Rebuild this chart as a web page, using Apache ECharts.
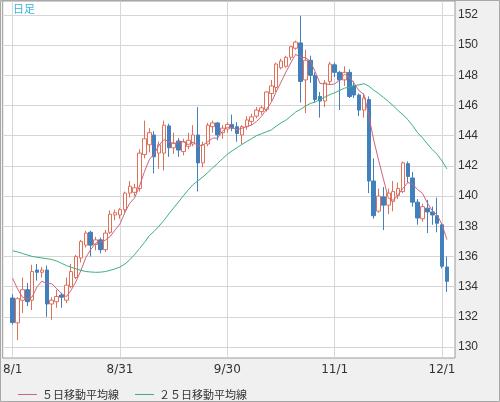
<!DOCTYPE html>
<html><head><meta charset="utf-8">
<script src="https://cdn.jsdelivr.net/npm/echarts@6/dist/echarts.min.js"></script>
<style>html,body{margin:0;padding:0;background:#f0f0f0}#c{width:500px;height:402px}</style>
</head><body><div id="c"></div>
<script>
const dates = ['8/1','8/2','8/3','8/4','8/5','8/8','8/9','8/10','8/11','8/12','8/15','8/16','8/17','8/18','8/19','8/22','8/23','8/24','8/25','8/26','8/29','8/30','8/31',
'9/1','9/2','9/5','9/6','9/7','9/8','9/9','9/12','9/13','9/14','9/15','9/16','9/19','9/20','9/21','9/22','9/23','9/26','9/27','9/28','9/29','9/30',
'10/3','10/4','10/5','10/6','10/7','10/10','10/11','10/12','10/13','10/14','10/17','10/18','10/19','10/20','10/21','10/24','10/25','10/26','10/27','10/28','10/31',
'11/1','11/2','11/3','11/4','11/7','11/8','11/9','11/10','11/11','11/14','11/15','11/16','11/17','11/18','11/21','11/22','11/23','11/24','11/25','11/28','11/29','11/30',
'12/1','12/2'];
const tickDates = ['8/1','8/31','9/30','11/1','12/1'];
const yTicks = [130,132,134,136,138,140,142,144,146,148,150,152];
const opens = [133.25,131.6,133.1,133.8,133.1,135.1,134.95,135.1,132.85,133.0,133.45,133.1,134.0,134.6,135.9,136.75,137.6,136.8,137.1,136.45,137.6,138.75,138.75,
139.1,140.2,140.25,140.5,142.75,143.4,144.05,142.85,142.85,144.65,143.2,143.65,142.95,143.3,143.45,144.05,142.2,143.45,144.6,144.85,144.2,144.45,
144.75,144.6,144.05,144.6,144.95,145.3,145.6,145.75,146.8,147.2,148.5,148.6,149.2,149.8,150.15,147.7,149.0,148.0,146.6,146.3,147.6,
148.7,148.2,147.7,148.2,147.3,146.7,145.7,146.4,141.0,139.0,139.95,139.4,139.65,140.05,140.3,142.15,141.2,139.6,138.5,139.2,138.95,138.7,
138.1,135.3];
const closes = [131.62,133.2,133.8,133.0,135.0,134.95,135.1,132.85,133.1,133.35,133.3,134.1,135.0,136.0,137.0,137.55,136.75,137.1,136.45,137.55,138.8,138.9,139.1,
140.2,140.65,140.55,142.85,143.8,144.2,142.6,143.4,144.7,143.2,143.5,143.05,143.6,143.7,144.05,142.2,143.4,144.7,144.85,144.05,144.5,144.75,
144.5,144.15,144.6,145.05,145.25,145.7,145.85,146.9,147.3,148.75,148.95,149.2,149.9,150.2,147.6,149.0,148.0,146.4,146.3,147.5,148.75,
148.2,147.7,148.2,146.6,146.7,145.7,146.5,141.0,138.7,140.0,139.4,140.2,140.3,140.5,142.2,141.3,139.6,138.55,139.3,138.95,138.75,138.2,
135.35,134.35];
const lows = [131.5,130.45,132.25,132.7,132.45,134.4,134.6,132.0,131.8,132.6,132.6,132.9,133.9,134.5,135.6,136.6,136.0,136.4,136.2,136.3,137.5,138.4,138.5,
138.9,139.9,140.0,140.3,142.5,142.9,141.5,141.8,141.7,142.6,142.8,142.6,142.7,143.1,143.3,140.3,141.9,143.3,144.2,143.7,143.8,144.2,
144.3,143.6,143.45,144.4,144.7,145.15,145.4,145.6,146.3,146.9,148.4,148.5,149.0,149.7,146.2,145.5,147.5,146.2,145.2,145.9,147.4,
147.9,145.7,147.3,146.5,146.5,145.3,145.2,140.2,138.5,138.9,137.75,138.8,139.0,139.8,140.2,140.9,139.3,138.1,138.3,137.55,138.1,137.6,
135.2,133.65];
const highs = [133.5,133.3,134.6,134.25,135.45,135.5,135.3,135.4,133.3,133.8,133.6,134.6,135.5,136.1,137.1,137.7,137.7,137.3,137.25,137.75,139.05,139.1,139.2,
140.3,141.0,140.8,143.1,145.0,144.5,144.3,143.6,145.0,144.8,144.2,143.85,143.8,144.2,144.7,145.9,143.6,144.85,145.0,144.9,144.7,144.9,
145.4,144.9,144.7,145.3,145.45,145.9,146.0,146.95,147.7,148.85,149.1,149.3,149.95,150.3,151.95,149.7,149.3,148.2,146.9,147.7,148.9,
148.85,148.3,148.6,148.4,147.6,146.8,146.8,146.6,142.5,140.5,140.6,140.5,141.0,140.9,142.3,142.3,141.6,139.8,139.5,139.75,139.3,139.9,
138.15,136.0];
const ma5 = [134.55,133.85,133.3,133.2,133.32,133.99,134.37,134.18,134.20,133.87,133.54,133.34,133.77,134.35,135.08,135.93,136.46,136.88,136.97,137.08,137.33,137.76,138.16,
138.91,139.53,139.88,140.67,141.61,142.41,142.80,143.37,143.74,143.62,143.48,143.57,143.61,143.41,143.58,143.32,143.39,143.61,143.84,143.84,144.30,144.57,
144.53,144.39,144.50,144.61,144.71,144.95,145.29,145.75,146.20,146.90,147.55,148.22,148.82,149.40,149.17,149.18,148.94,148.24,147.46,147.44,147.39,
147.43,147.69,148.07,147.89,147.48,146.98,146.74,145.30,143.72,142.38,141.12,139.86,139.72,140.08,140.52,140.90,140.78,140.43,140.19,139.54,139.03,138.75,
138.11,137.12];
const ma25 = [136.38,136.3,136.2,136.1,136.0,135.95,135.9,135.85,135.8,135.7,135.55,135.4,135.28,135.18,135.08,135.0,134.97,134.95,134.96,135.0,135.08,135.18,135.3,
135.5,135.78,136.13,136.52,136.92,137.37,137.67,138.01,138.39,138.81,139.22,139.61,140.02,140.41,140.77,141.02,141.27,141.56,141.88,142.16,142.48,142.77,
143.00,143.21,143.43,143.62,143.81,144.01,144.13,144.26,144.38,144.63,144.85,145.03,145.30,145.57,145.75,145.96,146.14,146.23,146.39,146.56,146.72,
146.85,147.00,147.15,147.22,147.31,147.37,147.45,147.29,147.02,146.80,146.54,146.27,145.99,145.66,145.39,145.07,144.66,144.20,143.86,143.46,143.09,142.76,
142.33,141.80];
const seriesNames = ['５日移動平均線', '２５日移動平均線'];
const titleText = '日足';

const candles = dates.map((d, i) => [i, opens[i], closes[i], lows[i], highs[i]]);
const ma5Pts = ma5.map((v, i) => [i, v]);
const ma25Pts = ma25.map((v, i) => [i, v]);
const xTickIdx = tickDates.map(d => dates.indexOf(d));

const chart = echarts.init(document.getElementById('c'), null, {renderer: 'canvas'});
chart.setOption({
  animation: false,
  backgroundColor: '#f0f0f0',
  graphic: [
    {type: 'rect', shape: {x: 0.5, y: 0.5, width: 499, height: 401}, style: {fill: 'none', stroke: '#a8a8a8', lineWidth: 1}, z: 100},
    {type: 'text', left: 13, top: 3, style: {text: titleText, fill: '#33b5dd', fontSize: 11, fontFamily: 'Noto Sans CJK JP'}, z: 100}
  ],
  grid: {left: 1, top: 1, width: 454, height: 357, show: true, backgroundColor: '#ffffff', borderColor: '#9a9a9a', borderWidth: 1},
  xAxis: {
    type: 'value', min: -2.042, max: 90.66,
    axisLine: {show: false}, axisTick: {show: false, customValues: xTickIdx},
    axisLabel: {customValues: xTickIdx, formatter: v => dates[Math.round(v)], color: '#333', fontSize: 12, fontFamily: 'DejaVu Sans', margin: 6},
    splitLine: {show: true, lineStyle: {color: '#d6d6d6', width: 1}}
  },
  yAxis: {
    type: 'value', position: 'right', min: 129.271, max: 152.928, scale: true,
    axisLine: {show: false}, axisTick: {show: false, customValues: yTicks},
    axisLabel: {customValues: yTicks, color: '#333', fontSize: 12, fontFamily: 'Liberation Sans', margin: 3},
    splitLine: {show: true, lineStyle: {color: '#d6d6d6', width: 1}}
  },
  legend: {
    left: 13, top: 384, itemWidth: 19, itemHeight: 1, itemGap: 16,
    data: [{name: seriesNames[0], icon: 'rect'}, {name: seriesNames[1], icon: 'rect'}],
    textStyle: {color: '#333', fontSize: 11, fontFamily: 'Noto Sans CJK JP'},
    selectedMode: false
  },
  series: [
    {type: 'candlestick', name: 'price', data: candles, encode: {x: 0, y: [1, 2, 3, 4]}, barWidth: 4,
     itemStyle: {color: '#ffffff', color0: '#4280bd', borderColor: '#e0705a', borderColor0: '#4280bd', borderWidth: 1}},
    {type: 'line', name: seriesNames[0], data: ma5Pts, showSymbol: false, symbol: 'none', lineStyle: {color: '#cc6678', width: 1}, itemStyle: {color: '#cc6678'}, z: 3},
    {type: 'line', name: seriesNames[1], data: ma25Pts, showSymbol: false, symbol: 'none', lineStyle: {color: '#3bb07e', width: 1}, itemStyle: {color: '#3bb07e'}, z: 3}
  ]
});
</script></body></html>
